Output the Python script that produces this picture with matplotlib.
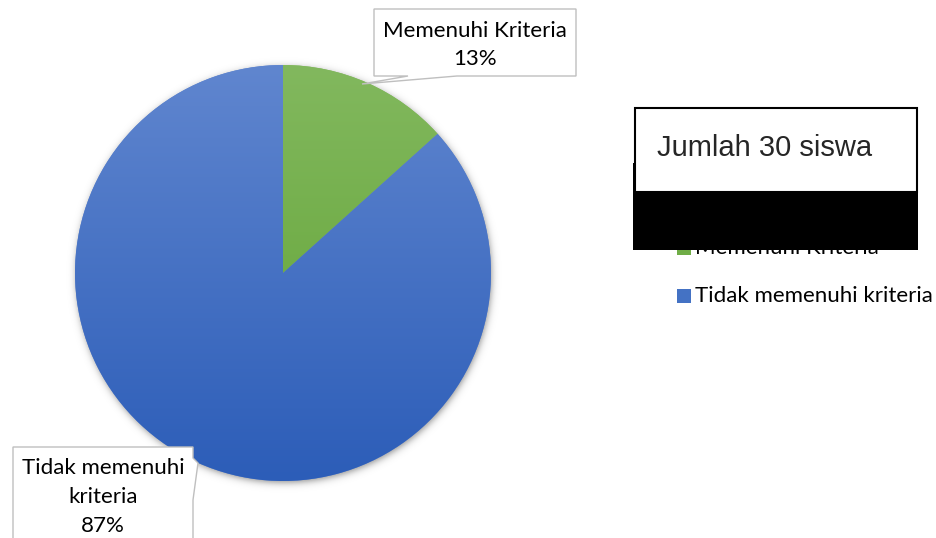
import numpy as np
import matplotlib
matplotlib.use("Agg")
import matplotlib.pyplot as plt
from matplotlib.patches import Rectangle, Polygon
from matplotlib.colors import LinearSegmentedColormap

# jumlah siswa per kategori
categories = ['Memenuhi Kriteria', 'Tidak memenuhi kriteria']
counts = [4, 26]
label_lines = ['Memenuhi Kriteria', 'Tidak memenuhi\nkriteria']
legend_title = 'Jumlah 30 siswa'

top_colors = ['#82b85e', '#6086cf']
bottom_colors = ['#5fa231', '#2c5db8']

W, H = 936, 538
fig = plt.figure(figsize=(W / 100, H / 100), dpi=100)
ax = fig.add_axes([0, 0, 1, 1])
ax.set_xlim(0, W)
ax.set_ylim(0, H)
ax.axis('off')

def Y(y):
    return H - y

cx, cy, R = 283, Y(273), 208

# soft shadow around the pie
gx, gy = np.meshgrid(np.arange(cx - R - 20, cx + R + 20),
                     np.arange(cy - R - 20, cy + R + 20))
d = np.hypot(gx - (cx + 1), gy - (cy - 2))
alpha = 0.45 / (1 + np.exp((d - R) / 2.2))
shadow = np.zeros(d.shape + (4,))
shadow[..., 3] = alpha
ax.imshow(shadow, extent=[gx.min(), gx.max(), gy.min(), gy.max()],
          origin='lower', zorder=1, interpolation='bilinear')

wedges, _ = ax.pie(counts, center=(cx, cy), radius=R, startangle=90,
                   counterclock=False, colors=top_colors,
                   wedgeprops=dict(linewidth=0))
for w in wedges:
    w.set_zorder(2)

# vertical gradient inside each slice
grad = np.linspace(0, 1, 256).reshape(-1, 1)
for w, c0, c1 in zip(wedges, top_colors, bottom_colors):
    cmap = LinearSegmentedColormap.from_list('g', [c1, c0])
    im = ax.imshow(grad, cmap=cmap, origin='lower', aspect='auto',
                   extent=[cx - R, cx + R, cy - R, cy + R], zorder=3)
    im.set_clip_path(w)
ax.set_xlim(0, W)
ax.set_ylim(0, H)

total = sum(counts)
pcts = [round(100 * c / total) for c in counts]

font = 'Lato'
fs = 16
edge = '#bfbfbf'

# callout for the green slice
top_box = [(374, 9), (576, 9), (576, 76), (457, 76), (362, 84), (408, 76), (374, 76)]
ax.add_patch(Polygon([(x, Y(y)) for x, y in top_box], closed=True,
                     facecolor='white', edgecolor=edge, lw=1, zorder=5))
ax.text(475, Y(45), f'{label_lines[0]}\n{pcts[0]}%', ha='center', va='center',
        fontsize=fs, family=font, linespacing=1.55, zorder=6)

# callout for the blue slice
bot_box = [(13, 447), (193, 447), (193, 458), (198, 463), (193, 500),
           (193, 560), (13, 560)]
ax.add_patch(Polygon([(x, Y(y)) for x, y in bot_box], closed=True,
                     facecolor='white', edgecolor=edge, lw=1, zorder=5))
ax.text(103, Y(497), f'{label_lines[1]}\n{pcts[1]}%', ha='center', va='center',
        fontsize=fs, family=font, linespacing=1.55, zorder=6)

# legend entries
for i, (cat, col) in enumerate(zip(categories, ['#70ad47', '#4472c4'])):
    yc = 248 + 48 * i
    ax.add_patch(Rectangle((677, Y(yc + 7)), 14, 14, facecolor=col,
                           edgecolor='none', zorder=6))
    ax.text(695, Y(yc), cat, ha='left', va='center', fontsize=fs,
            family=font, zorder=6)

# title box over the legend
ax.add_patch(Rectangle((633, Y(250)), 285, 87, facecolor='black',
                       edgecolor='none', zorder=10))
ax.add_patch(Rectangle((635, Y(192)), 282, 84, facecolor='white',
                       edgecolor='black', lw=1.5, zorder=11))
ax.text(657, Y(148), legend_title, ha='left', va='center', fontsize=21,
        family='Liberation Sans', color='#262626', zorder=12)

fig.savefig('out.png', dpi=100)
